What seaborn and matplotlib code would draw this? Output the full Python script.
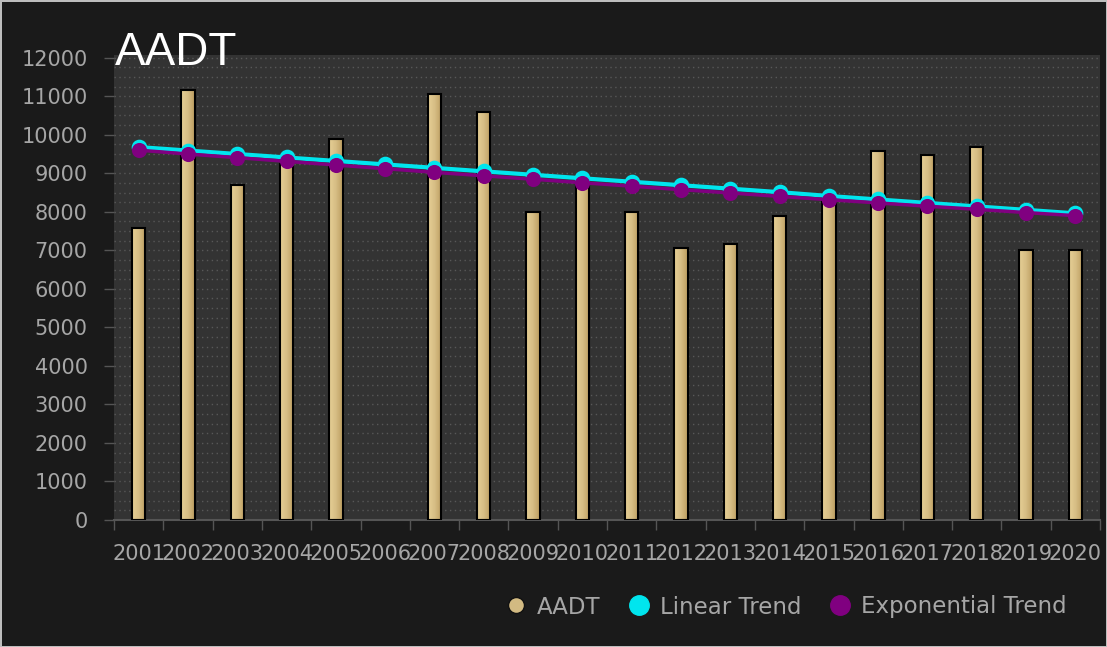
import numpy as np
import pandas as pd
import matplotlib
matplotlib.use("Agg")
import matplotlib.pyplot as plt
from matplotlib.lines import Line2D
from matplotlib.colors import LinearSegmentedColormap
from matplotlib.ticker import MultipleLocator, FixedLocator
import seaborn as sns

# Annual average daily traffic and fitted trends
years = [str(y) for y in range(2001, 2021)]
aadt = [7590, 11170, 8700, 9250, 9900, np.nan, 11070, 10600, 8000, 8750,
        8000, 7060, 7170, 7900, 8350, 9580, 9480, 9690, 7010, 7010]
linear_trend = [9680, 9590, 9500, 9410, 9320, 9230, 9140, 9050, 8960, 8870,
                8780, 8690, 8600, 8510, 8410, 8320, 8230, 8140, 8050, 7960]
exp_trend = [9600, 9500, 9405, 9310, 9215, 9120, 9025, 8935, 8845, 8755,
             8665, 8575, 8490, 8400, 8315, 8230, 8145, 8065, 7980, 7900]

df = pd.DataFrame({"year": years, "AADT": aadt,
                   "Linear Trend": linear_trend,
                   "Exponential Trend": exp_trend})

BG = "#1a1a1a"
PANEL = "#333333"
TEXT = "#a6a6a6"
GOLD = "#d2ba82"
CYAN = "#00e5ee"
PURPLE = "#800080"

sns.set_theme(style="dark")
plt.rcParams["font.family"] = ["DejaVu Sans"]

fig = plt.figure(figsize=(11.07, 6.47), dpi=100, facecolor=BG)
fig.patch.set_edgecolor("#bdbdbd")
fig.patch.set_linewidth(2)
ax = fig.add_axes([114 / 1107, 1 - 520 / 647, (1100 - 114) / 1107, (520 - 55) / 647])
ax.set_facecolor(PANEL)

sns.barplot(data=df, x="year", y="AADT", order=years, color=GOLD,
            width=0.27, edgecolor="black", linewidth=1.5, saturation=1,
            errorbar=None, ax=ax, zorder=2)

# shade each bar with a left-to-right golden gradient
shade = LinearSegmentedColormap.from_list("bar_shade", ["#e6cf95", "#d6bd84", "#bb9d5f"])
grad = np.linspace(0, 1, 64).reshape(1, -1)
for bar in list(ax.patches):
    h = bar.get_height()
    if not np.isfinite(h) or h <= 0:
        continue
    x0, w = bar.get_x(), bar.get_width()
    img = ax.imshow(grad, cmap=shade, aspect="auto", extent=(x0, x0 + w, 0, h),
                    zorder=2.5, interpolation="bicubic")
    img.set_clip_path(bar)
    bar.set_facecolor("none")
    bar.set_zorder(3)

sns.pointplot(data=df, x="year", y="Linear Trend", order=years, color=CYAN,
              markers="o", markersize=9, linewidth=3, errorbar=None, ax=ax)
sns.pointplot(data=df, x="year", y="Exponential Trend", order=years, color=PURPLE,
              markers="o", markersize=9, linewidth=2.5, errorbar=None, ax=ax)
for ln in ax.lines:
    ln.set_zorder(4)
ax.lines[-1].set_zorder(5)

ax.set_xlim(-0.5, 19.5)
ax.set_ylim(0, 12070)
ax.set_xlabel("")
ax.set_ylabel("")

# dotted horizontal grid every 250
ax.yaxis.set_major_locator(MultipleLocator(1000))
ax.yaxis.set_minor_locator(MultipleLocator(250))
ax.grid(False)
ax.grid(which="both", axis="y", color="#585858", linestyle=(0, (1, 2.5)), linewidth=1)
ax.set_axisbelow(True)

# x ticks: labels at centres, tick marks at category boundaries
ax.xaxis.set_minor_locator(FixedLocator(np.arange(-0.5, 20, 1)))
ax.tick_params(axis="x", which="major", length=0, pad=17, labelsize=15, labelcolor=TEXT)
ax.tick_params(axis="x", which="minor", length=7, width=1, color="#555555", bottom=True)
ax.tick_params(axis="y", which="major", length=7, width=1, color="#555555", left=True,
               pad=12, labelsize=15, labelcolor=TEXT)
ax.tick_params(axis="y", which="minor", length=0)

for side in ["top", "right", "left"]:
    ax.spines[side].set_visible(False)
ax.spines["bottom"].set_color("#555555")
ax.spines["bottom"].set_linewidth(1.5)

fig.text(115 / 1107, 1 - 65 / 647, "AADT", color="white", fontsize=33,
         family="Liberation Sans", va="baseline", ha="left")

handles = [
    Line2D([], [], marker="o", linestyle="none", markersize=11.5,
           markerfacecolor=GOLD, markeredgecolor="#111111", label="AADT"),
    Line2D([], [], marker="o", linestyle="none", markersize=14,
           markerfacecolor=CYAN, markeredgecolor=CYAN, label="Linear Trend"),
    Line2D([], [], marker="o", linestyle="none", markersize=14,
           markerfacecolor=PURPLE, markeredgecolor=PURPLE, label="Exponential Trend"),
]
leg = fig.legend(handles=handles, loc="center right", ncol=3, frameon=False,
                 bbox_to_anchor=(1087 / 1107, 1 - 607 / 647), fontsize=16.5,
                 handletextpad=0.3, columnspacing=1.1, handlelength=1.2)
for t in leg.get_texts():
    t.set_color(TEXT)

fig.savefig("out.png", dpi=100, facecolor=BG, edgecolor="#bdbdbd")
